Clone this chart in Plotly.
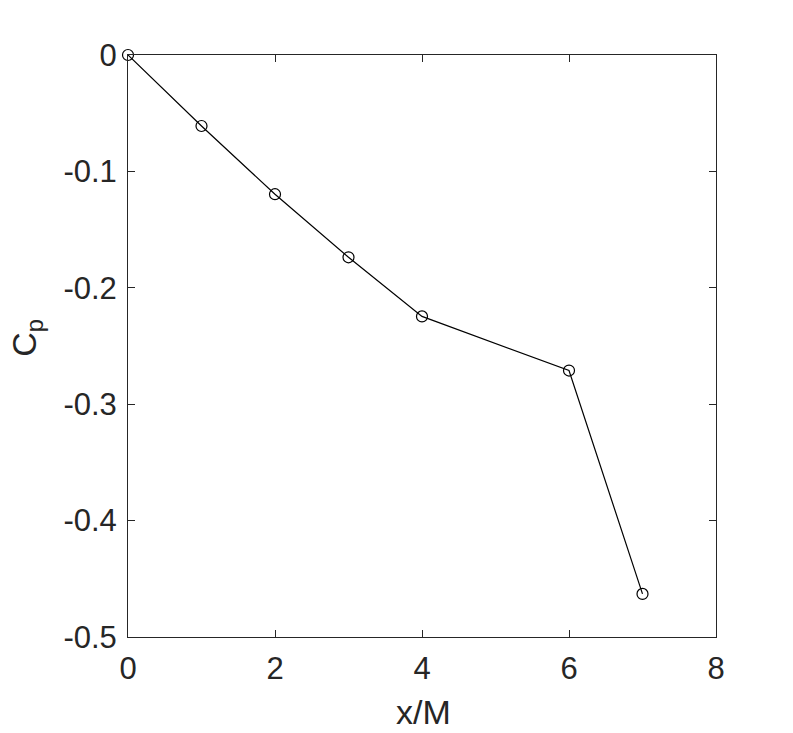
import plotly.graph_objects as go

x_over_M = [0, 1, 2, 3, 4, 6, 7]
cp = [0.0, -0.061, -0.1196, -0.1738, -0.2246, -0.2711, -0.463]
x_ticks = [0, 2, 4, 6, 8]
y_ticks = [0, -0.1, -0.2, -0.3, -0.4, -0.5]
y_tick_text = ["0", "-0.1", "-0.2", "-0.3", "-0.4", "-0.5"]
x_title = "x/M"
y_title = "C<sub>p</sub>"

FONT = "Liberation Sans, Arial, Helvetica"
TXT = "#262626"

fig = go.Figure()
fig.add_trace(go.Scatter(
    x=x_over_M, y=cp, mode="lines+markers",
    line=dict(color="black", width=1.2),
    marker=dict(symbol="circle-open", size=11, color="black", line=dict(width=1.2)),
    showlegend=False, cliponaxis=False,
))

axis_common = dict(
    showline=True, linecolor=TXT, linewidth=1, mirror="ticks",
    ticks="inside", ticklen=7, tickcolor=TXT, tickwidth=1,
    showgrid=False, zeroline=False,
    tickfont=dict(family=FONT, size=31, color=TXT),
)

fig.update_layout(
    width=785, height=725,
    paper_bgcolor="white", plot_bgcolor="white",
    margin=dict(l=120, r=77, t=47, b=96),
    xaxis=dict(range=[0, 8], tickvals=x_ticks, ticktext=[str(v) for v in x_ticks],
               ticklabelstandoff=4, **axis_common),
    yaxis=dict(range=[-0.5, 0], tickvals=y_ticks, ticktext=y_tick_text,
               ticklabelstandoff=4, **axis_common),
    annotations=[
        dict(text=x_title, xref="paper", yref="paper", x=0.503, y=-0.129,
             xanchor="center", yanchor="middle", showarrow=False,
             font=dict(family=FONT, size=34, color=TXT)),
        dict(text=y_title, xref="paper", yref="paper", x=-0.172, y=0.514,
             xanchor="center", yanchor="middle", showarrow=False, textangle=-90,
             font=dict(family=FONT, size=34, color=TXT)),
    ],
)

fig.write_html("out.html")
